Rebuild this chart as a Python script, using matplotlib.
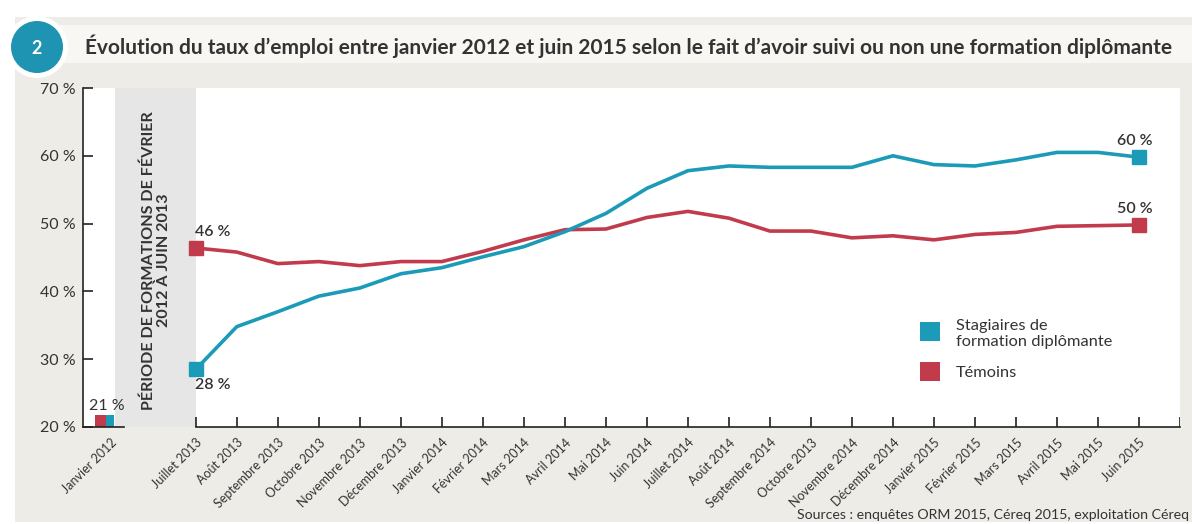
import matplotlib
matplotlib.use("Agg")
import matplotlib.pyplot as plt
from matplotlib.patches import Rectangle, Circle

plt.rcParams['font.family'] = ['Lato', 'DejaVu Sans']

# ---------------- data ----------------
months = ["Juillet 2013", "Août 2013", "Septembre 2013", "Octobre 2013", "Novembre 2013",
          "Décembre 2013", "Janvier 2014", "Février 2014", "Mars 2014", "Avril 2014",
          "Mai 2014", "Juin 2014", "Juillet 2014", "Août 2014", "Septembre 2014",
          "Octobre 2013", "Novembre 2014", "Décembre 2014", "Janvier 2015", "Février 2015",
          "Mars 2015", "Avril 2015", "Mai 2015", "Juin 2015"]
stagiaires = [28.5, 34.8, 37.0, 39.3, 40.5, 42.6, 43.5, 45.1, 46.6, 48.8, 51.5, 55.2,
              57.8, 58.5, 58.3, 58.3, 58.3, 60.0, 58.7, 58.5, 59.4, 60.5, 60.5, 59.8]
temoins = [46.4, 45.8, 44.1, 44.4, 43.8, 44.4, 44.4, 45.9, 47.6, 49.1, 49.2, 50.9,
           51.8, 50.8, 48.9, 48.9, 47.9, 48.2, 47.6, 48.4, 48.7, 49.6, 49.7, 49.8]
jan2012_label = "Janvier 2012"
jan2012_values = [21.7, 21.7]          # Témoins, Stagiaires (bar tops)
yticks = [20, 30, 40, 50, 60, 70]
ytick_labels = ["20 %", "30 %", "40 %", "50 %", "60 %", "70 %"]

TEAL = "#1c9bb8"
RED = "#c23b4c"
TXT = "#333333"

W, H = 1192, 524
fig = plt.figure(figsize=(W / 100, H / 100), dpi=100)
fig.patch.set_facecolor("white")

def px(x, y, w, h):
    return (x / W, 1 - (y + h) / H, w / W, h / H)

# background panels
bg = fig.add_axes([0, 0, 1, 1], zorder=-10)
bg.set_xlim(0, W); bg.set_ylim(H, 0); bg.axis("off")
bg.add_patch(Rectangle((15, 17), W - 15, 505, color="#eeece7", lw=0))
bg.add_patch(Rectangle((15, 25), W - 15, 38, color="#f8f7f4", lw=0))
bg.add_patch(Circle((37, 47), 31, color="white", lw=0))
bg.add_patch(Circle((37, 47), 26, color="#1e93b2", lw=0))
bg.text(37, 48, "2", color="white", fontsize=13, fontweight="bold", ha="center", va="center")
bg.text(85, 46, "Évolution du taux d’emploi entre janvier 2012 et juin 2015 selon le fait d’avoir suivi ou non une formation diplômante",
        color=TXT, fontsize=15.0, fontweight="bold", ha="left", va="center")
bg.text(1189, 515, "Sources : enquêtes ORM 2015, Céreq 2015, exploitation Céreq",
        color=TXT, fontsize=10.2, ha="right", va="center")

# main axes
x0_px, x1_px = 83, 1180
ax = fig.add_axes(px(x0_px, 88, x1_px - x0_px, 427 - 88))
ax.set_facecolor("white")
ax.set_xlim(-2.75, 24)
ax.set_ylim(20, 70)
for s in ["top", "right", "bottom"]:
    ax.spines[s].set_visible(False)
ax.spines["left"].set_color("#222222")
ax.spines["left"].set_linewidth(1.2)

xs = list(range(len(months)))

# grey band
ax.axvspan(-1.97, 0, color="#e6e6e6", lw=0, zorder=0)
ax.text(-0.97, 44.6, "PÉRIODE DE FORMATIONS DE FÉVRIER\n2012 À JUIN 2013", rotation=90,
        ha="center", va="center", fontsize=11.6, fontweight="bold", color=TXT,
        linespacing=1.05, zorder=3)

# janvier 2012 bars
ax.bar([-2.33], [jan2012_values[0] - 20], bottom=20, width=0.27, color=RED, zorder=2)
ax.bar([-2.095], [jan2012_values[1] - 20], bottom=20, width=0.2, color=TEAL, zorder=2)
ax.text(-2.18, 22.0, "21 %", ha="center", va="bottom", fontsize=11.5, color=TXT)

# lines
ax.plot(xs, temoins, color=RED, lw=2.6, zorder=4, solid_joinstyle="round")
ax.plot(xs, stagiaires, color=TEAL, lw=2.6, zorder=5, solid_joinstyle="round")
for ser, col in [(temoins, RED), (stagiaires, TEAL)]:
    ax.plot([xs[0], xs[-1]], [ser[0], ser[-1]], ls="none", marker="s", ms=10.5, color=col, zorder=6)

lab_kw = dict(fontsize=11.5, color=TXT, fontweight="semibold")
ax.text(xs[0] + 0.42, temoins[0] + 1.3, "46 %", ha="center", va="bottom", **lab_kw)
ax.text(xs[0] + 0.42, stagiaires[0] - 1.3, "28 %", ha="center", va="top", **lab_kw)
ax.text(xs[-1] - 0.1, stagiaires[-1] + 1.3, "60 %", ha="center", va="bottom", **lab_kw)
ax.text(xs[-1] - 0.1, temoins[-1] + 1.3, "50 %", ha="center", va="bottom", **lab_kw)

# bottom axis drawn in pieces
ax.plot([-2.75, -1.75], [20, 20], color="#222222", lw=1.2, clip_on=False, zorder=7)
ax.plot([0, 24], [20, 20], color="#222222", lw=1.2, clip_on=False, zorder=7)
ax.vlines(list(range(25)), 20, 21.45, color="#222222", lw=1.2, zorder=7)

# y ticks
ax.set_yticks(yticks)
ax.set_yticklabels(ytick_labels, fontsize=11.5, color=TXT)
ax.tick_params(axis="y", direction="in", length=7, width=1.2, color="#222222", pad=5)

# x labels
ax.set_xticks([])
for xv, lab in zip([-2.08] + xs, [jan2012_label] + months):
    ax.text(xv, 18.6, lab, rotation=45, ha="right", va="top", rotation_mode="anchor",
            fontsize=9.0, color=TXT, clip_on=False)

# legend drawn on top of main axes
leg = fig.add_axes([0, 0, 1, 1], zorder=20)
leg.set_xlim(0, W); leg.set_ylim(H, 0); leg.axis("off")
leg.patch.set_alpha(0)
leg.add_patch(Rectangle((920, 322), 20, 19, color=TEAL, lw=0))
leg.add_patch(Rectangle((920, 362), 20, 19, color=RED, lw=0))
leg.text(956, 334, "Stagiaires de\nformation diplômante", fontsize=11.8, color=TXT,
         ha="left", va="center", linespacing=1.1)
leg.text(956, 373, "Témoins", fontsize=11.8, color=TXT, ha="left", va="center")

fig.savefig("out.png", dpi=100, facecolor=fig.get_facecolor())
